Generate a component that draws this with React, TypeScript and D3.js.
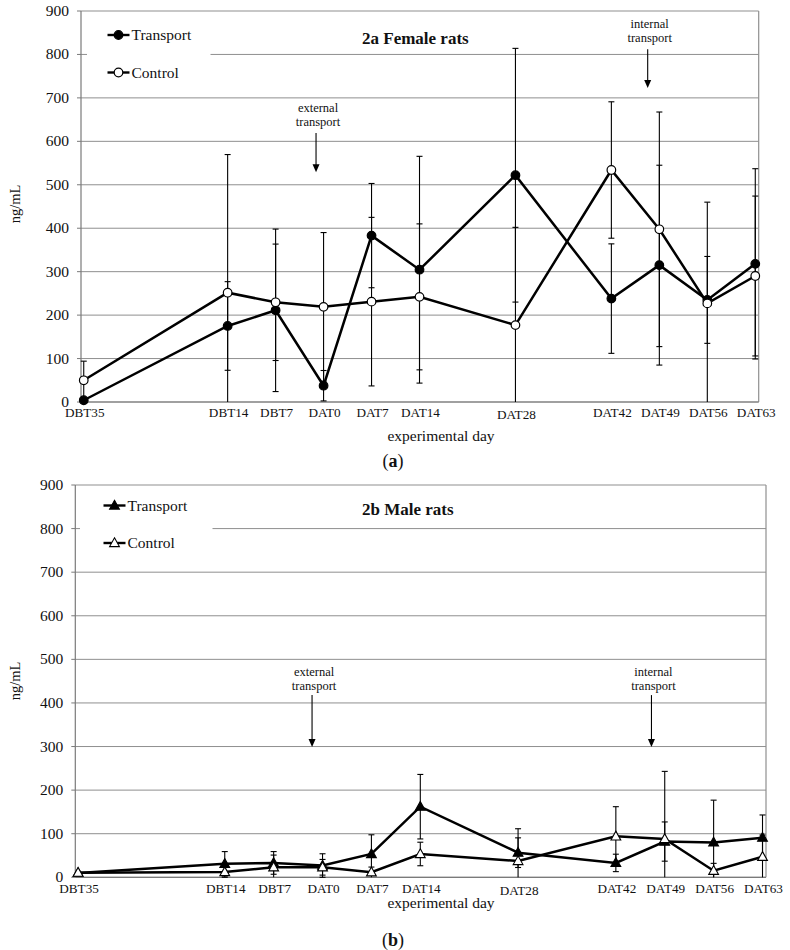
import React from 'react';
import * as d3 from 'd3';

const days = [-35, -14, -7, 0, 7, 14, 28, 42, 49, 56, 63];
const dayLabels = ['DBT35', 'DBT14', 'DBT7', 'DAT0', 'DAT7', 'DAT14', 'DAT28', 'DAT42', 'DAT49', 'DAT56', 'DAT63'];
const yTicks = [0, 100, 200, 300, 400, 500, 600, 700, 800, 900];
const seriesNames = ['Transport', 'Control'];

const femaleTransport = [4, 175, 211, 37.5, 383, 304.5, 522, 238, 315, 235, 318];
const femaleTransportErr = [4, 102, 187, 35, 120, 261, 292, 126, 230, 100, 219];
const femaleControl = [50, 251.6, 229.5, 219, 231, 242, 177, 534, 397.5, 227, 290];
const femaleControlErr = [44, 318, 134, 171, 194, 168, 225, 157, 270, 233, 184];

const maleTransport = [10, 31, 33, 27, 53.5, 162, 56.5, 33, 82, 80, 91];
const maleTransportErr = [3, 28, 26, 27, 44, 74, 34, 20, 45, 97, 52];
const maleControl = [10.5, 12, 23, 23, 11.5, 53.5, 37.4, 94, 88, 15, 47];
const maleControlErr = [3, 12, 28, 18, 12, 27, 74, 68, 155, 17, 50];

const femaleAnnotations = [
  { lines: ['external', 'transport'], day: -1.1, from: 619, to: 529 },
  { lines: ['internal', 'transport'], day: 47.3, from: 812, to: 723 },
];
const maleAnnotations = [
  { lines: ['external', 'transport'], day: -1.5, from: 418, to: 299 },
  { lines: ['internal', 'transport'], day: 47.1, from: 418, to: 299 },
];

const FONT = "'Liberation Serif', 'DejaVu Serif', serif";

type Ann = { lines: string[]; day: number; from: number; to: number };

type PanelProps = {
  transport: number[];
  transportErr: number[];
  control: number[];
  controlErr: number[];
  title: string;
  marker: 'circle' | 'triangle';
  left: number;
  right: number;
  top: number;
  bottom: number;
  labelY: number;
  xTitleY: number;
  captionY: number;
  caption: string;
  legendX: number;
  legendY: number;
  legendGap: [number, number];
  yLabelY: number;
  annotations: Ann[];
  annTextOffset: number;
};

function Marker({ type, x, y, filled }: { type: string; x: number; y: number; filled: boolean }) {
  if (type === 'circle') {
    return <circle cx={x} cy={y} r={4.3} fill={filled ? '#000' : '#fff'} stroke="#000" strokeWidth={1.2} />;
  }
  const p = `M${x},${y - 5.2}L${x + 4.9},${y + 3.6}L${x - 4.9},${y + 3.6}Z`;
  return <path d={p} fill={filled ? '#000' : '#fff'} stroke="#000" strokeWidth={1.1} strokeLinejoin="miter" />;
}

const T = (p: any) => <text {...p} style={{ fontFamily: FONT, ...(p.style || {}) }} />;

function Panel(props: PanelProps) {
  const { left, right, top, bottom } = props;
  const x = d3.scaleLinear().domain([-35.4, 63.5]).range([left, right]);
  const y = d3.scaleLinear().domain([0, 900]).range([bottom, top]);
  const line = d3
    .line<number>()
    .x((_, i) => x(days[i]))
    .y((v) => y(v));

  const series = [
    { name: seriesNames[0], vals: props.transport, errs: props.transportErr, filled: true },
    { name: seriesNames[1], vals: props.control, errs: props.controlErr, filled: false },
  ];

  const errBars = (vals: number[], errs: number[], key: string) =>
    vals.map((v, i) => {
      const hi = Math.min(900, v + errs[i]);
      const lo = v - errs[i];
      const loC = Math.max(0, lo);
      const cx = x(days[i]);
      return (
        <g key={key + i} stroke="#000" strokeWidth={1.1}>
          <line x1={cx} x2={cx} y1={y(hi)} y2={y(loC)} />
          <line x1={cx - 3} x2={cx + 3} y1={y(hi)} y2={y(hi)} />
          {lo >= 0 && <line x1={cx - 3} x2={cx + 3} y1={y(lo)} y2={y(lo)} />}
        </g>
      );
    });

  return (
    <g>
      {yTicks.map((t) => (
        <line key={'g' + t} x1={left} x2={right} y1={y(t)} y2={y(t)} stroke="#8f8f8f" strokeWidth={1} />
      ))}
      <line x1={left} x2={left} y1={top} y2={bottom} stroke="#7a7a7a" strokeWidth={1.2} />
      <line x1={right} x2={right} y1={top} y2={bottom} stroke="#8f8f8f" strokeWidth={1.2} />
      <line x1={left} x2={right} y1={bottom} y2={bottom} stroke="#7a7a7a" strokeWidth={1.2} />
      {yTicks.map((t) => (
        <g key={'t' + t}>
          <line x1={left - 4} x2={left} y1={y(t)} y2={y(t)} stroke="#7a7a7a" strokeWidth={1} />
          <T x={left - 12} y={y(t) + 5} textAnchor="end" fontSize={15.5} fill="#111">
            {t}
          </T>
        </g>
      ))}
      <rect x={props.legendGap[0]} y={top + 4} width={props.legendGap[1] - props.legendGap[0]} height={y(720) - top - 4} fill="#fff" />
      {seriesNames.map((n, i) => {
        const ly = props.legendY + i * 37.5;
        return (
          <g key={'lg' + n}>
            <line x1={props.legendX} x2={props.legendX + 22} y1={ly} y2={ly} stroke="#000" strokeWidth={2.4} />
            <Marker type={props.marker} x={props.legendX + 11} y={ly} filled={i === 0} />
            <T x={props.legendX + 24} y={ly + 5} fontSize={15.5} fill="#111">
              {n}
            </T>
          </g>
        );
      })}
      <T x={362} y={props.legendY + 9} fontSize={17} fontWeight="bold" fill="#111">
        {props.title}
      </T>
      {props.annotations.map((a, i) => {
        const ax = x(a.day);
        const y1 = y(a.from);
        const y2 = y(a.to);
        return (
          <g key={'a' + i}>
            <T x={ax + 2} y={y1 - props.annTextOffset - 14} textAnchor="middle" fontSize={12.5} fill="#111">
              {a.lines[0]}
            </T>
            <T x={ax + 2} y={y1 - props.annTextOffset} textAnchor="middle" fontSize={12.5} fill="#111">
              {a.lines[1]}
            </T>
            <line x1={ax} x2={ax} y1={y1} y2={y2 - 6} stroke="#000" strokeWidth={1.1} />
            <path d={`M${ax - 3.5},${y2 - 8}L${ax + 3.5},${y2 - 8}L${ax},${y2}Z`} fill="#000" />
          </g>
        );
      })}
      {series.map((s) => (
        <path key={'s' + s.name} d={line(s.vals) || ''} fill="none" stroke="#000" strokeWidth={2.5} strokeLinejoin="miter" />
      ))}
      {series.map((s) => (
        <g key={'e' + s.name}>{errBars(s.vals, s.errs, s.name)}</g>
      ))}
      {series.map((s) => (
        <g key={'m' + s.name}>
          {s.vals.map((v, i) => (
            <Marker key={i} type={props.marker} x={x(days[i])} y={y(v)} filled={s.filled} />
          ))}
        </g>
      ))}
      {dayLabels.map((l, i) => (
        <T key={'xl' + l} x={x(days[i]) + 1} y={props.labelY + (l === 'DAT28' ? 2 : 0)} textAnchor="middle" fontSize={13.2} fill="#111">
          {l}
        </T>
      ))}
      <T x={441} y={props.xTitleY} textAnchor="middle" fontSize={15.5} fill="#111">
        experimental day
      </T>
      <T transform={`translate(20,${props.yLabelY}) rotate(-90)`} textAnchor="middle" fontSize={14.5} fill="#111">
        ng/mL
      </T>
      <T x={393} y={props.captionY} textAnchor="middle" fontSize={18} fill="#111">
        (<tspan fontWeight="bold">{props.caption}</tspan>)
      </T>
    </g>
  );
}

export default function App() {
  return (
    <svg
      width={790}
      height={950}
      viewBox="0 0 790 950"
      style={{ position: 'absolute', left: 0, top: 0, display: 'block', background: '#fff' }}
    >
      <rect x={0} y={0} width={790} height={950} fill="#fff" />
      <Panel
        transport={femaleTransport}
        transportErr={femaleTransportErr}
        control={femaleControl}
        controlErr={femaleControlErr}
        title="2a Female rats"
        marker="circle"
        left={81}
        right={758.7}
        top={11}
        bottom={402}
        labelY={417}
        xTitleY={441}
        captionY={467}
        caption="a"
        legendX={107.5}
        legendY={35}
        legendGap={[87, 210.5]}
        yLabelY={204}
        annotations={femaleAnnotations}
        annTextOffset={7}
      />
      <Panel
        transport={maleTransport}
        transportErr={maleTransportErr}
        control={maleControl}
        controlErr={maleControlErr}
        title="2b Male rats"
        marker="triangle"
        left={75.3}
        right={766}
        top={485}
        bottom={877.3}
        labelY={893}
        xTitleY={908}
        captionY={946}
        caption="b"
        legendX={103.5}
        legendY={505.5}
        legendGap={[80, 212.5]}
        yLabelY={681}
        annotations={maleAnnotations}
        annTextOffset={5}
      />
    </svg>
  );
}
